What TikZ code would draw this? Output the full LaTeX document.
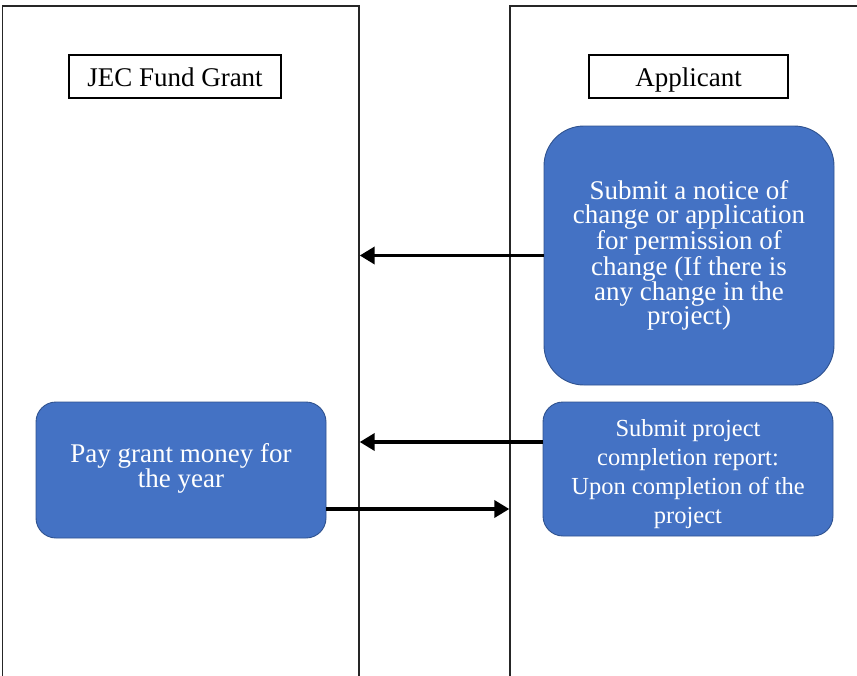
\documentclass[tikz,border=0pt]{standalone}
\usepackage{fontspec}
\setmainfont{Liberation Serif}
\usetikzlibrary{arrows.meta}
\definecolor{boxblue}{HTML}{4472C4}
\definecolor{boxedge}{HTML}{2F528F}
\tikzset{
  lane/.style={draw=black!85, line width=1.4pt, rectangle, inner sep=0pt},
  header/.style={draw=black, line width=1.2pt, rectangle, inner sep=0pt, text height=22pt, text depth=3pt, font=\fontsize{27}{31}\selectfont},
  stepbox/.style={draw=boxedge, line width=0.9pt, fill=boxblue, text=white, align=center, inner sep=0pt},
  flow/.style={line width=3.6pt, -{Triangle[length=15pt,width=17pt]}}
}
\begin{document}
\begin{tikzpicture}[x=1pt,y=-1pt]
\useasboundingbox (0,0) rectangle (857,675);
\clip (0,0) rectangle (857,675);
% lanes
\node[lane, minimum width=356.5pt, minimum height=700pt] (leftlane) at (180.75,356) {};
\node[lane, minimum width=370pt, minimum height=700pt] (rightlane) at (695,356) {};
% headers
\node[header, minimum width=212pt, minimum height=43pt] (hjec) at (175,76.5) {JEC Fund Grant};
\node[header, minimum width=199pt, minimum height=43pt] (happ) at (688.5,76.5) {Applicant};
% boxes
\node[stepbox, rounded corners=40pt, minimum width=290pt, minimum height=259pt,
      font=\fontsize{27}{24.7}\selectfont] (notice) at (689,255.5)
  {Submit a notice of\\change or application\\for permission of\\change (If there is\\any change in the\\project)};
\node[stepbox, rounded corners=20pt, minimum width=290pt, minimum height=134pt,
      font=\fontsize{24.5}{29.3}\selectfont] (report) at (688,469)
  {\mbox{}\\[-2pt]Submit project\\completion report:\\Upon completion of the\\project};
\node[stepbox, rounded corners=20pt, minimum width=290pt, minimum height=136pt,
      font=\fontsize{27}{25}\selectfont] (pay) at (181,470)
  {Pay grant money for\\the year\\[-15pt]};
% connectors
\draw[flow] (notice.west) -- (notice.west -| leftlane.east);
\draw[flow] (report.west |- 0,442) -- (leftlane.east |- 0,442);
\draw[flow] (pay.east |- 0,509) -- (rightlane.west |- 0,509);
\end{tikzpicture}
\end{document}
